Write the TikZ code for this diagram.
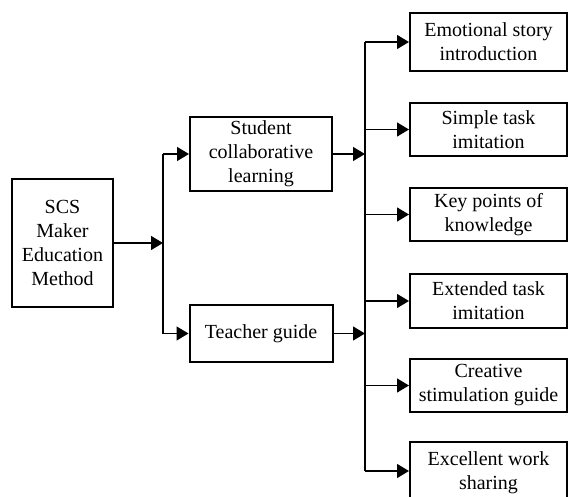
\documentclass[tikz,border=0pt]{standalone}
\usepackage{fontspec}
\setmainfont{Liberation Serif}
\usetikzlibrary{arrows.meta}
\begin{document}
\begin{tikzpicture}[x=1pt,y=-1pt,
  box/.style={draw,line width=2pt,rectangle,inner sep=0pt,align=center,
    font=\fontsize{20}{24}\selectfont},
  link/.style={line width=1.4pt},
  arr/.style={link,-{Triangle[length=12pt,width=14pt]}}]
\useasboundingbox (0,0) rectangle (568,496);

% left column
\node[box,minimum width=101pt,minimum height=128pt] (scs) at (62.5,243) {SCS\\Maker\\Education\\Method};

% middle column
\node[box,minimum width=142pt,minimum height=74pt] (stu) at (261,154) {Student\\collaborative\\learning};
\node[box,minimum width=143pt,minimum height=57pt] (tea) at (261,333.5) {Teacher guide};

% right column
\node[box,minimum width=157pt,minimum height=58pt] (r1) at (488.5,42) {Emotional story\\introduction};
\node[box,minimum width=157pt,minimum height=53pt] (r2) at (488.5,129.5) {Simple task\\imitation};
\node[box,minimum width=157pt,minimum height=53pt] (r3) at (488.5,214.5) {Key points of\\knowledge};
\node[box,minimum width=157pt,minimum height=54pt] (r4) at (488.5,301) {Extended task\\imitation};
\node[box,minimum width=157pt,minimum height=53pt] (r5) at (488.5,385.5) {Creative\\stimulation guide};
\node[box,minimum width=157pt,minimum height=62pt] (r6) at (488.5,473) {Excellent work\\sharing};

% branching bars
\coordinate (lt) at (163,154);
\coordinate (lb) at (163,333.5);
\coordinate (rt) at (365,42);
\coordinate (rb) at (365,471);

\draw[link] (lt) -- (lb);
\draw[link] (rt) -- (rb);

% SCS into the left bar
\draw[arr] (scs.east) -- (scs.east -| lt);
% left bar to the two parts
\draw[arr] (lt) -- (stu.west);
\draw[arr] (lb) -- (tea.west);
% the two parts into the right bar
\draw[arr] (stu.east) -- (stu.east -| rt);
\draw[arr] (tea.east) -- (tea.east -| rt);
% right bar to the six steps
\foreach \n in {r1,r2,r3,r4,r5}
  \draw[arr] (\n.west -| rt) -- (\n.west);
\draw[arr] (rb) -- (rb -| r6.west);
\end{tikzpicture}
\end{document}
